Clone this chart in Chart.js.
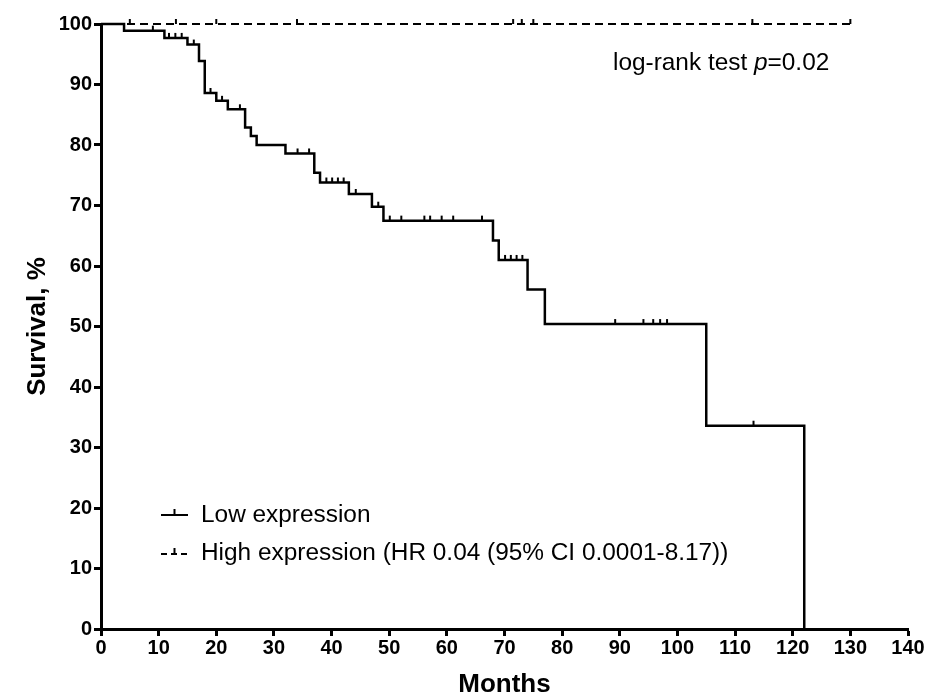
<!DOCTYPE html>
<html>
<head>
<meta charset="utf-8">
<script src="https://cdn.jsdelivr.net/npm/chart.js@4.4.1/dist/chart.umd.min.js"></script>
<style>
  body { margin: 0; background: #fff; }
</style>
</head>
<body>
<canvas id="km" width="931" height="697"></canvas>
<script>
// low expression: event times (months) and survival after each step (%)
var lowTimes = [0, 4, 11, 15, 17, 18, 20, 22, 25, 26, 27, 32, 37, 38, 43, 47, 49, 68, 69, 74, 77, 105, 122];
var lowSurv  = [100, 98.9, 97.7, 96.6, 93.9, 88.6, 87.3, 85.9, 82.9, 81.5, 80.0, 78.6, 75.4, 73.8, 71.9, 69.8, 67.5, 64.2, 61.0, 56.1, 50.4, 33.6, 0];
// censored patients, low expression
var lowCensored = [9, 11.8, 12.9, 14, 16.1, 19, 21, 24.1, 34.1, 36.1, 39.1, 40.1, 41.1, 42.1, 44.2, 48.1,
                   50.1, 52.1, 56.1, 57.1, 59.1, 61.1, 66.1, 70.1, 71.1, 72.1, 73.1, 89.2, 94.1, 95.8, 97, 98.2, 113.2];

// high expression: no events
var highTimes = [0, 130];
var highSurv  = [100, 100];
var highCensored = [5, 13, 20, 34, 71.5, 73, 75, 113, 130];

var xTicks = [0, 140, 10];   // min, max, step
var yTicks = [0, 100, 10];

// survival at a given time
function survAt(times, surv, t){
	var s = surv[0];
	for (var i = 0; i < times.length; i++){
		if (times[i] <= t) s = surv[i];
	}
	return s;
}

function toPoints(xs, ys){
	var out = [];
	for (var i = 0; i < xs.length; i++) out.push({x: xs[i], y: ys[i]});
	return out;
}

function censorPoints(list, times, surv){
	return list.map(function(t){ return {x: t, y: survAt(times, surv, t)}; });
}

var lowLine = toPoints(lowTimes, lowSurv);
var highLine = toPoints(highTimes, highSurv);
var lowMarks = censorPoints(lowCensored, lowTimes, lowSurv);
var highMarks = censorPoints(highCensored, highTimes, highSurv);

var FONT = "'Liberation Sans', Arial, sans-serif";

// legend and log-rank text drawn inside the plot
var overlay = {
	id: 'overlay',
	afterDraw: function(chart){
		var ctx = chart.ctx;
		ctx.save();
		ctx.strokeStyle = '#000';
		ctx.fillStyle = '#000';
		ctx.lineWidth = 2;

		// solid sample
		ctx.beginPath();
		ctx.moveTo(161, 515); ctx.lineTo(188, 515);
		ctx.moveTo(174.5, 515); ctx.lineTo(174.5, 509);
		ctx.stroke();

		// dashed sample
		ctx.setLineDash([6, 4]);
		ctx.beginPath();
		ctx.moveTo(161, 554); ctx.lineTo(189, 554);
		ctx.stroke();
		ctx.setLineDash([]);
		ctx.beginPath();
		ctx.moveTo(174.5, 554); ctx.lineTo(174.5, 548);
		ctx.stroke();

		ctx.font = '24.4px ' + FONT;
		ctx.textBaseline = 'middle';
		ctx.textAlign = 'left';
		ctx.fillText('Low expression', 201, 515);
		ctx.fillText('High expression (HR 0.04 (95% CI 0.0001-8.17))', 201, 553);

		var x = 613, y = 63;
		ctx.fillText('log-rank test ', x, y);
		x += ctx.measureText('log-rank test ').width;
		ctx.font = 'italic 24.4px ' + FONT;
		ctx.fillText('p', x, y);
		x += ctx.measureText('p').width;
		ctx.font = '24.4px ' + FONT;
		ctx.fillText('=0.02', x, y);
		ctx.restore();
	}
};

var ctx = document.getElementById('km').getContext('2d');
window.kmChart = new Chart(ctx, {
	type: 'line',
	data: {
		datasets: [{
			label: 'Low expression',
			data: lowLine,
			stepped: true,
			borderColor: '#000',
			borderWidth: 2.5,
			pointRadius: 0,
			fill: false,
			clip: false
		}, {
			label: 'Low censored',
			data: lowMarks,
			showLine: false,
			pointStyle: 'dash',
			pointRotation: -90,
			pointRadius: 5,
			pointBorderWidth: 2,
			pointBorderColor: '#000',
			clip: false
		}, {
			label: 'High expression',
			data: highLine,
			borderColor: '#000',
			borderWidth: 2,
			borderDash: [8, 5],
			pointRadius: 0,
			fill: false,
			clip: false
		}, {
			label: 'High censored',
			data: highMarks,
			showLine: false,
			pointStyle: 'dash',
			pointRotation: -90,
			pointRadius: 5,
			pointBorderWidth: 2,
			pointBorderColor: '#000',
			clip: false
		}]
	},
	options: {
		responsive: false,
		animation: false,
		events: [],
		layout: { padding: { top: 24, right: 23, left: 0, bottom: 0 } },
		plugins: {
			legend: { display: false },
			tooltip: { enabled: false }
		},
		scales: {
			x: {
				type: 'linear',
				min: xTicks[0],
				max: xTicks[1],
				afterFit: function(s){ s.height = 68; },
				ticks: {
					stepSize: xTicks[2],
					color: '#000',
					padding: 0,
					maxRotation: 0,
					font: { family: FONT, size: 20, weight: 'bold' }
				},
				grid: { drawOnChartArea: false, tickLength: 7, tickWidth: 3, tickColor: '#000' },
				border: { color: '#000', width: 3 },
				title: {
					display: true,
					text: 'Months',
					color: '#000',
					padding: 0,
					font: { family: FONT, size: 26, weight: 'bold', lineHeight: 0.9 }
				}
			},
			y: {
				min: yTicks[0],
				max: yTicks[1],
				afterFit: function(s){ s.width = 101; },
				ticks: {
					stepSize: yTicks[2],
					color: '#000',
					padding: 2,
					font: { family: FONT, size: 20, weight: 'bold' }
				},
				grid: { drawOnChartArea: false, tickLength: 7, tickWidth: 3, tickColor: '#000' },
				border: { color: '#000', width: 3 },
				title: {
					display: true,
					text: 'Survival, %',
					color: '#000',
					padding: { top: 25, bottom: 0 },
					font: { family: FONT, size: 26, weight: 'bold', lineHeight: 1 }
				}
			}
		}
	},
	plugins: [overlay]
});
</script>
</body>
</html>
